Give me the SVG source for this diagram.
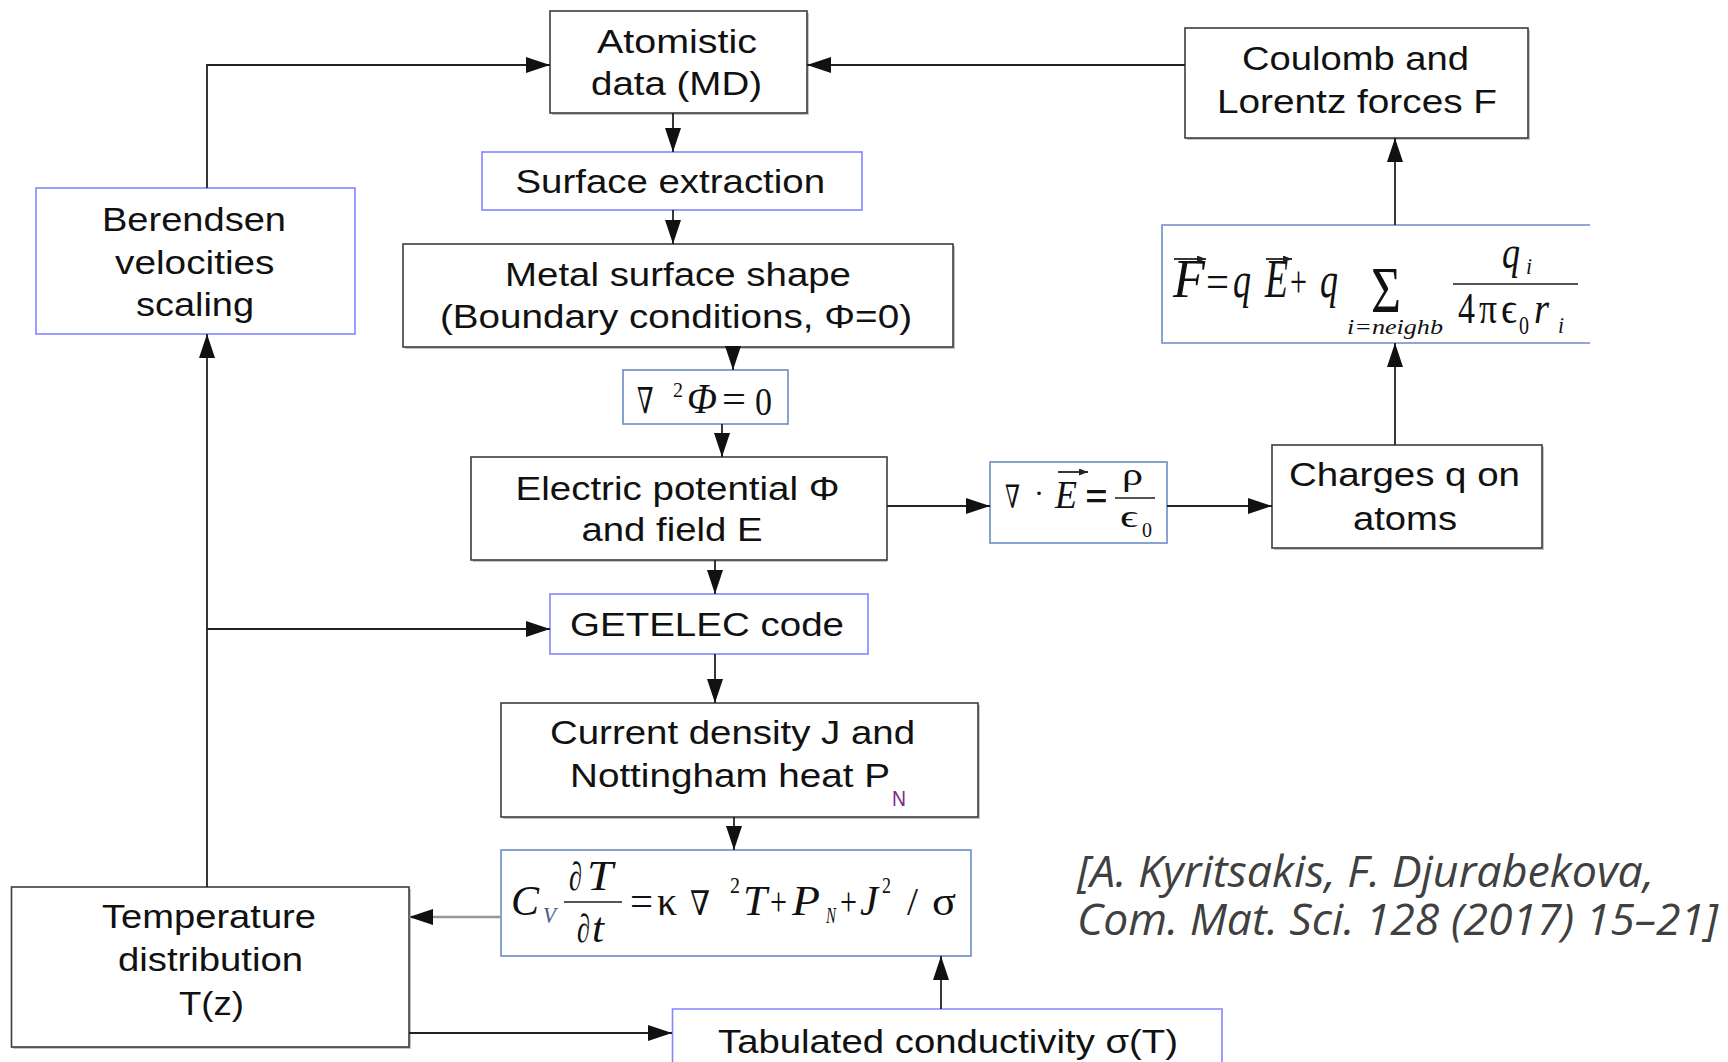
<svg xmlns="http://www.w3.org/2000/svg" width="1728" height="1062" viewBox="0 0 1728 1062">
<defs>
<marker id="ah" markerUnits="userSpaceOnUse" markerWidth="24" markerHeight="16" refX="24" refY="8" orient="auto"><path d="M0,0 L24,8 L0,16 z" fill="#111"/></marker>
<marker id="vec" markerUnits="userSpaceOnUse" markerWidth="9" markerHeight="7" refX="9" refY="3.5" orient="auto"><path d="M0,0 L9,3.5 L0,7 z" fill="#222"/></marker>
<style>
.bk{fill:#fff;stroke:#3c3c3c;stroke-width:1.6}
.sh{fill:#c4c4c4;stroke:none}
.bl{fill:#fff;stroke:#8585ff;stroke-width:1.6}
.mb{fill:#fff;stroke:#6a8cc4;stroke-width:1.6}
.t{font-family:"Liberation Sans",Arial,sans-serif;font-size:34px;fill:#111}
.m{font-family:"Liberation Serif","DejaVu Serif",serif;fill:#111}
.mi{font-family:"Liberation Serif","DejaVu Serif",serif;font-style:italic;fill:#111}
.c{font-family:"Open Sans","Liberation Sans",sans-serif;font-style:italic;font-size:44px;fill:#404040}
.cn{fill:none;stroke:#222;stroke-width:1.8}
.fl{stroke:#555;stroke-width:2}
</style>
</defs>
<rect width="1728" height="1062" fill="#fff"/>

<g id="atomistic">
<rect class="sh" x="552" y="13" width="257" height="102"/>
<rect class="bk" x="550" y="11" width="257" height="102"/>
<text class="t" x="597" y="53" textLength="160" lengthAdjust="spacingAndGlyphs">Atomistic</text>
<text class="t" x="591" y="95" textLength="171" lengthAdjust="spacingAndGlyphs">data (MD)</text>
</g>

<g id="coulomb">
<rect class="sh" x="1187" y="30" width="343" height="110"/>
<rect class="bk" x="1185" y="28" width="343" height="110"/>
<text class="t" x="1242" y="70" textLength="227" lengthAdjust="spacingAndGlyphs">Coulomb and</text>
<text class="t" x="1217" y="113" textLength="280" lengthAdjust="spacingAndGlyphs">Lorentz forces F</text>
</g>

<g id="surface-extraction">
<rect class="bl" x="482" y="152" width="380" height="58"/>
<text class="t" x="515.5" y="193" textLength="309.5" lengthAdjust="spacingAndGlyphs">Surface extraction</text>
</g>

<g id="berendsen">
<rect class="bl" x="36" y="188" width="319" height="146"/>
<text class="t" x="102" y="231" textLength="184" lengthAdjust="spacingAndGlyphs">Berendsen</text>
<text class="t" x="115" y="274" textLength="159.5" lengthAdjust="spacingAndGlyphs">velocities</text>
<text class="t" x="136" y="316" textLength="118" lengthAdjust="spacingAndGlyphs">scaling</text>
</g>

<g id="metal-surface">
<rect class="sh" x="405" y="246" width="550" height="103"/>
<rect class="bk" x="403" y="244" width="550" height="103"/>
<text class="t" x="505" y="286" textLength="346" lengthAdjust="spacingAndGlyphs">Metal surface shape</text>
<text class="t" x="440" y="328" textLength="472" lengthAdjust="spacingAndGlyphs">(Boundary conditions, Φ=0)</text>
</g>

<g id="laplace">
<rect class="mb" x="623" y="370" width="165" height="54"/>
<text class="m" x="637" y="413" font-size="36" textLength="16.5" lengthAdjust="spacingAndGlyphs">∇</text>
<text class="m" x="673" y="397" font-size="22" textLength="10" lengthAdjust="spacingAndGlyphs">2</text>
<text class="mi" x="687" y="413" font-size="42" textLength="30" lengthAdjust="spacingAndGlyphs">Φ</text>
<text class="m" x="722" y="413" font-size="40" textLength="24" lengthAdjust="spacingAndGlyphs">=</text>
<text class="m" x="755" y="415" font-size="40" textLength="17" lengthAdjust="spacingAndGlyphs">0</text>
</g>

<g id="electric">
<rect class="sh" x="473" y="459" width="414" height="103"/>
<rect class="bk" x="471" y="457" width="416" height="103"/>
<text class="t" x="515.5" y="500" textLength="324" lengthAdjust="spacingAndGlyphs">Electric potential Φ</text>
<text class="t" x="581.5" y="541" textLength="181" lengthAdjust="spacingAndGlyphs">and field E</text>
</g>

<g id="gauss">
<rect class="mb" x="990" y="462" width="177" height="81"/>
<text class="m" x="1005" y="508" font-size="32" textLength="15" lengthAdjust="spacingAndGlyphs">∇</text>
<text class="m" x="1034" y="503" font-size="30">·</text>
<text class="mi" x="1055" y="508" font-size="40" textLength="22" lengthAdjust="spacingAndGlyphs">E</text>
<path d="M1058,472 H1088" class="cn" stroke-width="1.4" marker-end="url(#vec)"/>
<text class="m" x="1085" y="511" font-size="46" textLength="23" lengthAdjust="spacingAndGlyphs" font-weight="bold">=</text>
<line class="fl" x1="1115" y1="498" x2="1155" y2="498"/>
<text class="m" x="1122" y="485" font-size="32" textLength="21" lengthAdjust="spacingAndGlyphs">ρ</text>
<text class="m" x="1120" y="527" font-size="32" textLength="18" lengthAdjust="spacingAndGlyphs">ϵ</text>
<text class="m" x="1142" y="537" font-size="20" textLength="10" lengthAdjust="spacingAndGlyphs">0</text>
</g>

<g id="charges">
<rect class="sh" x="1274" y="447" width="270" height="103"/>
<rect class="bk" x="1272" y="445" width="270" height="103"/>
<text class="t" x="1289" y="486" textLength="231" lengthAdjust="spacingAndGlyphs">Charges q on</text>
<text class="t" x="1353" y="530" textLength="104" lengthAdjust="spacingAndGlyphs">atoms</text>
</g>

<g id="force-formula">
<path d="M1590,225 H1162 V343 H1590" fill="#fff" stroke="#6a8cc4" stroke-width="1.6"/>
<text class="mi" x="1173" y="297" font-size="54" textLength="32" lengthAdjust="spacingAndGlyphs">F</text>
<path d="M1174,259 H1206" class="cn" stroke-width="1.6" marker-end="url(#vec)"/>
<text class="m" x="1206" y="297" font-size="46" textLength="23" lengthAdjust="spacingAndGlyphs">=</text>
<text class="mi" x="1233" y="297" font-size="50" textLength="18" lengthAdjust="spacingAndGlyphs">q</text>
<text class="mi" x="1265" y="297" font-size="54" textLength="23" lengthAdjust="spacingAndGlyphs">E</text>
<path d="M1266,259 H1292" class="cn" stroke-width="1.6" marker-end="url(#vec)"/>
<text class="m" x="1290" y="297" font-size="44" textLength="17" lengthAdjust="spacingAndGlyphs">+</text>
<text class="mi" x="1320" y="297" font-size="50" textLength="18" lengthAdjust="spacingAndGlyphs">q</text>
<text class="m" x="1371" y="312" font-size="66" textLength="30" lengthAdjust="spacingAndGlyphs">Σ</text>
<text class="mi" x="1347" y="334" font-size="22" textLength="96" lengthAdjust="spacingAndGlyphs">i=neighb</text>
<line class="fl" x1="1453" y1="284" x2="1578" y2="284"/>
<text class="mi" x="1502" y="268" font-size="46" textLength="18" lengthAdjust="spacingAndGlyphs">q</text>
<text class="mi" x="1526" y="274" font-size="24" textLength="6" lengthAdjust="spacingAndGlyphs">i</text>
<text class="m" x="1458" y="323" font-size="44" textLength="17" lengthAdjust="spacingAndGlyphs">4</text>
<text class="m" x="1479" y="323" font-size="44" textLength="18" lengthAdjust="spacingAndGlyphs">π</text>
<text class="m" x="1501" y="323" font-size="44" textLength="16" lengthAdjust="spacingAndGlyphs">ϵ</text>
<text class="m" x="1519" y="334" font-size="26" textLength="10" lengthAdjust="spacingAndGlyphs">0</text>
<text class="mi" x="1534" y="323" font-size="44" textLength="15" lengthAdjust="spacingAndGlyphs">r</text>
<text class="mi" x="1558" y="333" font-size="24" textLength="6" lengthAdjust="spacingAndGlyphs">i</text>
</g>

<g id="getelec">
<rect class="bl" x="550" y="594" width="318" height="60"/>
<text class="t" x="570" y="636" textLength="274" lengthAdjust="spacingAndGlyphs">GETELEC code</text>
</g>

<g id="current">
<rect class="sh" x="503" y="705" width="477" height="114"/>
<rect class="bk" x="501" y="703" width="477" height="114"/>
<text class="t" x="550" y="744" textLength="365" lengthAdjust="spacingAndGlyphs">Current density J and</text>
<text class="t" x="570" y="787" textLength="320" lengthAdjust="spacingAndGlyphs">Nottingham heat P</text>
<text class="t" x="892" y="806" style="fill:#7a2a8a;font-size:22px" textLength="14" lengthAdjust="spacingAndGlyphs">N</text>
</g>

<g id="heat-equation">
<rect class="mb" x="501" y="850" width="470" height="106"/>
<text class="mi" x="511" y="915" font-size="42" textLength="28" lengthAdjust="spacingAndGlyphs">C</text>
<text class="mi" x="543" y="923" font-size="24" textLength="13" lengthAdjust="spacingAndGlyphs" style="fill:#4a5a8a">V</text>
<text class="mi" x="569" y="890" font-size="40" textLength="13" lengthAdjust="spacingAndGlyphs">∂</text>
<text class="mi" x="587" y="890" font-size="42" textLength="26" lengthAdjust="spacingAndGlyphs">T</text>
<line class="fl" x1="564" y1="902" x2="622" y2="902"/>
<text class="mi" x="577" y="942" font-size="40" textLength="13" lengthAdjust="spacingAndGlyphs">∂</text>
<text class="mi" x="592" y="942" font-size="42" textLength="12" lengthAdjust="spacingAndGlyphs">t</text>
<text class="m" x="630" y="915" font-size="42" textLength="23" lengthAdjust="spacingAndGlyphs">=</text>
<text class="m" x="657" y="915" font-size="40" textLength="20" lengthAdjust="spacingAndGlyphs">κ</text>
<text class="m" x="690" y="915" font-size="34" textLength="20" lengthAdjust="spacingAndGlyphs">∇</text>
<text class="m" x="730" y="893" font-size="24" textLength="10" lengthAdjust="spacingAndGlyphs">2</text>
<text class="mi" x="743" y="915" font-size="42" textLength="24" lengthAdjust="spacingAndGlyphs">T</text>
<text class="m" x="770" y="915" font-size="40" textLength="17" lengthAdjust="spacingAndGlyphs">+</text>
<text class="mi" x="792" y="915" font-size="42" textLength="28" lengthAdjust="spacingAndGlyphs">P</text>
<text class="mi" x="826" y="923" font-size="24" textLength="10" lengthAdjust="spacingAndGlyphs">N</text>
<text class="m" x="840" y="915" font-size="40" textLength="17" lengthAdjust="spacingAndGlyphs">+</text>
<text class="mi" x="860" y="915" font-size="42" textLength="18" lengthAdjust="spacingAndGlyphs">J</text>
<text class="m" x="882" y="893" font-size="24" textLength="9" lengthAdjust="spacingAndGlyphs">2</text>
<text class="m" x="907" y="915" font-size="40" textLength="11" lengthAdjust="spacingAndGlyphs">/</text>
<text class="m" x="932" y="915" font-size="40" textLength="24" lengthAdjust="spacingAndGlyphs">σ</text>
</g>

<g id="temperature">
<rect class="sh" x="13" y="889" width="398" height="160"/>
<rect class="bk" x="11.5" y="887" width="397.5" height="160"/>
<text class="t" x="102" y="928" textLength="214" lengthAdjust="spacingAndGlyphs">Temperature</text>
<text class="t" x="118" y="971" textLength="185" lengthAdjust="spacingAndGlyphs">distribution</text>
<text class="t" x="179" y="1015" textLength="65" lengthAdjust="spacingAndGlyphs">T(z)</text>
</g>

<g id="tabulated">
<path d="M672.5,1070 V1009 H1222 V1070" class="bl"/>
<text class="t" x="718" y="1053" textLength="460" lengthAdjust="spacingAndGlyphs">Tabulated conductivity σ(T)</text>
</g>

<g id="citation">
<text class="c" x="1077" y="887" textLength="577" lengthAdjust="spacingAndGlyphs">[A. Kyritsakis, F. Djurabekova,</text>
<text class="c" x="1077" y="935" textLength="641" lengthAdjust="spacingAndGlyphs">Com. Mat. Sci. 128 (2017) 15–21]</text>
</g>

<g id="connectors">
<path class="cn" d="M207,188 V65 H550" marker-end="url(#ah)"/>
<path class="cn" d="M1185,65 H807" marker-end="url(#ah)"/>
<path class="cn" d="M673,113 V152" marker-end="url(#ah)"/>
<path class="cn" d="M673,210 V244" marker-end="url(#ah)"/>
<path class="cn" d="M733,347 V370" marker-end="url(#ah)"/>
<path class="cn" d="M722,424 V457" marker-end="url(#ah)"/>
<path class="cn" d="M715,560 V594" marker-end="url(#ah)"/>
<path class="cn" d="M715,654 V703" marker-end="url(#ah)"/>
<path class="cn" d="M734,817 V850" marker-end="url(#ah)"/>
<path class="cn" d="M501,917 H409" style="stroke:#999;stroke-width:2.4" marker-end="url(#ah)"/>
<path class="cn" d="M207,887 V334" marker-end="url(#ah)"/>
<path class="cn" d="M207,629 H550" marker-end="url(#ah)"/>
<path class="cn" d="M409,1033 H672" marker-end="url(#ah)"/>
<path class="cn" d="M941,1009 V956" marker-end="url(#ah)"/>
<path class="cn" d="M887,506 H990" marker-end="url(#ah)"/>
<path class="cn" d="M1167,506 H1272" marker-end="url(#ah)"/>
<path class="cn" d="M1395,445 V343" marker-end="url(#ah)"/>
<path class="cn" d="M1395,225 V138" marker-end="url(#ah)"/>
</g>
</svg>
